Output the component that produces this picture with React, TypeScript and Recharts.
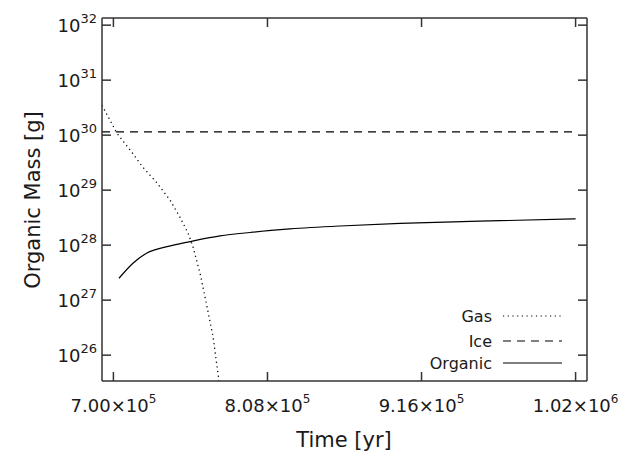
import React from "react";
import { LineChart, Line, XAxis, YAxis } from "recharts";

// time [yr] and organic mass [g] for each phase
const gasTime = [692000, 702300, 711600, 720700, 730600, 739700, 746700, 752300, 755800, 760700, 764200, 766300, 769800, 774000, 776000];
const gasMass = [3.5e30, 1.1e30, 5.4e29, 2.6e29, 1.35e29, 6.6e28, 3.2e28, 1.66e28, 9.3e27, 3.1e27, 1.15e27, 6.2e26, 2.2e26, 3.4e25, 1e25];

const iceTime = [692000, 1024000];
const iceMass = [1.15e30, 1.15e30];

const organicTime = [703900, 713700, 723500, 737600, 753700, 774700, 795700, 823800, 858800, 900900, 950000, 1024000];
const organicMass = [2.5e27, 4.7e27, 7.2e27, 9.4e27, 1.16e28, 1.47e28, 1.7e28, 1.97e28, 2.23e28, 2.48e28, 2.7e28, 3.0e28];

const xTicks = [700000, 808000, 916000, 1024000];
const xTickLabels = ["7.00×10", "8.08×10", "9.16×10", "1.02×10"];
const xTickExps = ["5", "5", "5", "6"];
const yTicks = [1e26, 1e27, 1e28, 1e29, 1e30, 1e31, 1e32];

const xDomain = [692000, 1032000];
const yDomain = [Math.pow(10, 25.53), Math.pow(10, 32.13)];

const zip = (t: number[], m: number[]) => t.map((v, i) => ({ t: v, m: m[i] }));
const gasData = zip(gasTime, gasMass);
const iceData = zip(iceTime, iceMass);
const organicData = zip(organicTime, organicMass);

const FONT = "'DejaVu Sans', sans-serif";
const INK = "#1a1a1a";
const AXIS = "#333";
const TICK = 9;

const BottomTick = (props: any) => {
  const { x, y, index } = props;
  return (
    <g>
      <line x1={x} y1={y} x2={x} y2={y - TICK} stroke={AXIS} strokeWidth={1.5} />
      <text x={x} y={y + 31} textAnchor="middle" fontFamily={FONT} fontSize={18} fill={INK}>
        {xTickLabels[index]}
        <tspan dy={-9} fontSize={12}>{xTickExps[index]}</tspan>
      </text>
    </g>
  );
};

const TopTick = (props: any) => {
  const { x, y } = props;
  return <line x1={x} y1={y} x2={x} y2={y + TICK} stroke={AXIS} strokeWidth={1.5} />;
};

const LeftTick = (props: any) => {
  const { x, y, payload } = props;
  const exp = Math.round(Math.log10(payload.value));
  return (
    <g>
      <line x1={x} y1={y} x2={x + TICK} y2={y} stroke={AXIS} strokeWidth={1.5} />
      <text x={x - 5} y={y + 7} textAnchor="end" fontFamily={FONT} fontSize={18} fill={INK}>
        10
        <tspan dy={-9} fontSize={13}>{exp}</tspan>
      </text>
    </g>
  );
};

const RightTick = (props: any) => {
  const { x, y } = props;
  return <line x1={x} y1={y} x2={x - TICK} y2={y} stroke={AXIS} strokeWidth={1.5} />;
};

const legendItems = [
  { name: "Gas", dash: "1.2 3.5", y: 316 },
  { name: "Ice", dash: "8 6", y: 341 },
  { name: "Organic", dash: undefined, y: 363 },
];

export default function App() {
  return (
    <div style={{ position: "absolute", left: 0, top: 0, width: 627, height: 463, background: "#fff" }}>
      <LineChart width={627} height={463} margin={{ top: 17, right: 39, left: 0, bottom: 0 }}>
        <XAxis
          dataKey="t"
          type="number"
          domain={xDomain}
          ticks={xTicks}
          allowDataOverflow
          height={82}
          stroke={AXIS}
          strokeWidth={1.5}
          tickSize={0}
          tickMargin={0}
          tick={<BottomTick />}
        />
        <XAxis
          xAxisId="top"
          orientation="top"
          dataKey="t"
          type="number"
          domain={xDomain}
          ticks={xTicks}
          allowDataOverflow
          height={1}
          stroke={AXIS}
          strokeWidth={1.5}
          tickSize={0}
          tickMargin={0}
          tick={<TopTick />}
        />
        <YAxis
          scale="log"
          domain={yDomain}
          ticks={yTicks}
          allowDataOverflow
          width={102}
          stroke={AXIS}
          strokeWidth={1.5}
          tickSize={0}
          tickMargin={0}
          tick={<LeftTick />}
        />
        <YAxis
          yAxisId="right"
          orientation="right"
          scale="log"
          domain={yDomain}
          ticks={yTicks}
          allowDataOverflow
          width={1}
          stroke={AXIS}
          strokeWidth={1.5}
          tickSize={0}
          tickMargin={0}
          tick={<RightTick />}
        />
        <Line data={gasData} dataKey="m" type="linear" stroke="#000" strokeWidth={1.3} strokeDasharray="1.2 3.5" dot={false} isAnimationActive={false} />
        <Line data={iceData} dataKey="m" type="linear" stroke="#000" strokeWidth={1.2} strokeDasharray="8 6" dot={false} isAnimationActive={false} />
        <Line data={organicData} dataKey="m" type="monotone" stroke="#000" strokeWidth={1.2} dot={false} isAnimationActive={false} />
        {/* invisible copy so the mirrored top/right axes have a series bound to them */}
        <Line data={iceData} dataKey="m" xAxisId="top" yAxisId="right" stroke="none" dot={false} activeDot={false} legendType="none" isAnimationActive={false} />
      </LineChart>
      <svg width={627} height={463} style={{ position: "absolute", left: 0, top: 0, pointerEvents: "none" }}>
        <text
          transform="translate(40,200) rotate(-90)"
          textAnchor="middle"
          fontFamily={FONT}
          fontSize={21}
          fill={INK}
        >
          Organic Mass [g]
        </text>
        <text x={344} y={447} textAnchor="middle" fontFamily={FONT} fontSize={21} fill={INK}>
          Time [yr]
        </text>
        {legendItems.map((it) => (
          <g key={it.name}>
            <text x={492} y={it.y + 6} textAnchor="end" fontFamily={FONT} fontSize={16} fill={INK}>
              {it.name}
            </text>
            <line x1={503} y1={it.y} x2={562} y2={it.y} stroke="#000" strokeWidth={1.2} strokeDasharray={it.dash} />
          </g>
        ))}
      </svg>
    </div>
  );
}
